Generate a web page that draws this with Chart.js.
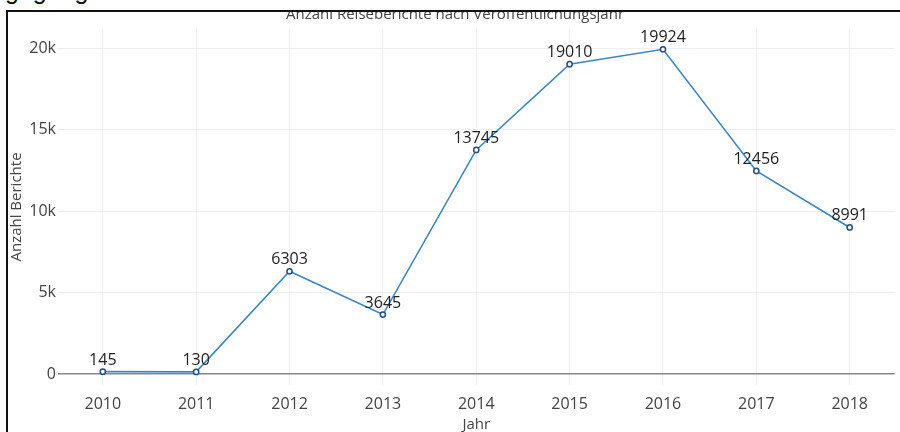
<!DOCTYPE html>
<html>
<head>
<meta charset="utf-8">
<script src="https://cdn.jsdelivr.net/npm/chart.js@4"></script>
<style>
html,body{margin:0;padding:0;background:#fff;}
#wrap{position:relative;width:900px;height:432px;overflow:hidden;}
#c{position:absolute;left:0;top:0;}
#topmask{position:absolute;left:0;top:0;width:900px;height:10px;background:#fff;overflow:hidden;}
#topmask span{position:absolute;left:5px;top:-22px;font-family:"Liberation Sans",sans-serif;font-size:25px;line-height:24px;color:#111;}
#hline{position:absolute;left:6px;top:10px;width:894px;height:2px;background:#111;}
#vline{position:absolute;left:6px;top:10px;width:2px;height:422px;background:#111;}
</style>
</head>
<body>
<div id="wrap">
<canvas id="c" width="900" height="432"></canvas>
<div id="topmask"><span>gegangen</span></div>
<div id="hline"></div>
<div id="vline"></div>
</div>
<script>
const years = [2010, 2011, 2012, 2013, 2014, 2015, 2016, 2017, 2018];
const reports = [145, 130, 6303, 3645, 13745, 19010, 19924, 12456, 8991];
const yTicks = [0, 5000, 10000, 15000, 20000];
const yTickLabels = ["0", "5k", "10k", "15k", "20k"];
const chartTitle = "Anzahl Reiseberichte nach Veröffentlichungsjahr";
const xTitle = "Jahr";
const yTitle = "Anzahl Berichte";

const FONT = '"Open Sans", "DejaVu Sans", sans-serif';

const labelPlugin = {
  id: 'pointLabels',
  afterDatasetsDraw(chart) {
    const ctx = chart.ctx;
    const meta = chart.getDatasetMeta(0);
    ctx.save();
    ctx.font = '16px ' + FONT;
    ctx.fillStyle = '#222';
    ctx.textAlign = 'center';
    ctx.textBaseline = 'alphabetic';
    meta.data.forEach((pt, i) => {
      ctx.fillText(String(reports[i]), pt.x, pt.y - 7);
    });
    ctx.restore();
  }
};

new Chart(document.getElementById('c'), {
  type: 'line',
  data: {
    datasets: [{
      data: years.map((y, i) => ({x: y, y: reports[i]})),
      borderColor: '#3a87c6',
      borderWidth: 1.6,
      pointRadius: 2.6,
      pointBorderWidth: 1.5,
      pointBackgroundColor: '#fff',
      pointBorderColor: '#1f4e8c',
      tension: 0,
      fill: false
    }]
  },
  options: {
    responsive: false,
    animation: false,
    events: [],
    layout: {padding: {left: 12, right: 2, top: 0, bottom: 0}},
    plugins: {
      legend: {display: false},
      tooltip: {enabled: false},
      title: {
        display: true,
        text: chartTitle,
        color: '#444',
        font: {family: FONT, size: 15, weight: 'normal', lineHeight: 1.2},
        padding: {top: 6, bottom: 5}
      }
    },
    scales: {
      x: {
        type: 'linear',
        min: 2009.52,
        max: 2018.48,
        afterFit(s) { s.height = 47; s.paddingLeft = 0; s.paddingRight = 0; },
        afterBuildTicks(s) { s.ticks = years.map(v => ({value: v})); },
        ticks: {
          color: '#444',
          padding: 10,
          font: {family: FONT, size: 16},
          callback: (v) => String(v),
          maxRotation: 0,
          autoSkip: false
        },
        grid: {color: '#eeeeee', lineWidth: 1, drawTicks: false},
        border: {display: false},
        title: {
          display: true,
          text: xTitle,
          color: '#444',
          font: {family: FONT, size: 15, lineHeight: 1},
          padding: {top: 0, bottom: 0}
        }
      },
      y: {
        type: 'linear',
        min: -675,
        max: 21166,
        afterFit(s) { s.width = 46; s.paddingTop = 0; s.paddingBottom = 0; },
        afterBuildTicks(s) { s.ticks = yTicks.map(v => ({value: v})); },
        ticks: {
          color: '#444',
          padding: 2,
          font: {family: FONT, size: 16},
          callback: (v) => { const i = yTicks.indexOf(v); return i >= 0 ? yTickLabels[i] : ''; }
        },
        grid: {
          color: (c) => (c.tick && c.tick.value === 0) ? '#888888' : '#eeeeee',
          lineWidth: (c) => (c.tick && c.tick.value === 0) ? 1.5 : 1,
          drawTicks: false
        },
        border: {display: false},
        title: {
          display: true,
          text: yTitle,
          color: '#444',
          font: {family: FONT, size: 15, lineHeight: 1},
          padding: {top: -2.5, bottom: 0}
        }
      }
    }
  },
  plugins: [labelPlugin]
});
</script>
</body>
</html>
